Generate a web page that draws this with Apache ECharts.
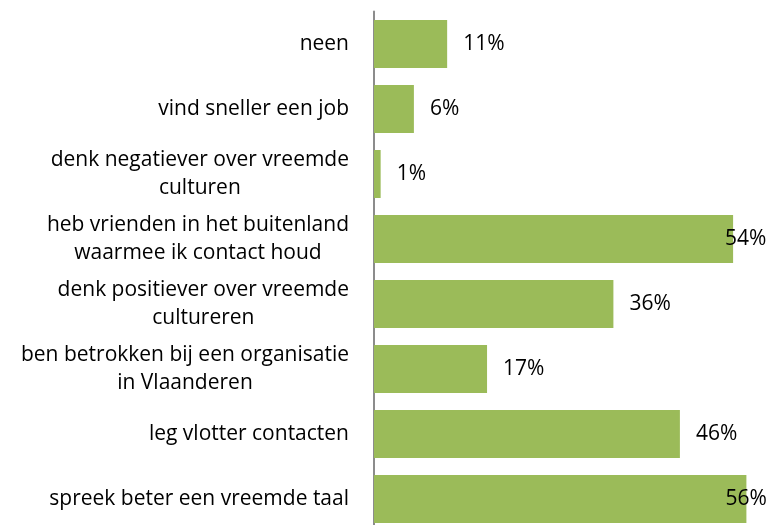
<!DOCTYPE html>
<html><head><meta charset="utf-8">
<script src="https://cdn.jsdelivr.net/npm/echarts@6/dist/echarts.min.js"></script>
<style>html,body{margin:0;padding:0;background:#fff}#c{width:771px;height:525px}</style>
</head><body><div id="c"></div>
<script>
const categories = [
  'neen',
  'vind sneller een job',
  'denk negatiever over vreemde\nculturen',
  'heb vrienden in het buitenland\nwaarmee ik contact houd',
  'denk positiever over vreemde\ncultureren',
  'ben betrokken bij een organisatie\nin Vlaanderen',
  'leg vlotter contacten',
  'spreek beter een vreemde taal'
];
const values = [11, 6, 1, 54, 36, 17, 46, 56];
const labelShift = [0, 0, 0, -24, 0, 0, 0, -37];

const FONT = '"Open Sans", sans-serif';
const FS = 21;
const chart = echarts.init(document.getElementById('c'));
chart.setOption({
  animation: false,
  grid: { left: 374, top: 11.5, width: 399, height: 520, containLabel: false, outerBoundsMode: 'none' },
  xAxis: { type: 'value', min: 0, max: 60, show: false },
  yAxis: {
    type: 'category', inverse: true, data: categories,
    axisLine: { show: true, lineStyle: { color: '#8c8c8c', width: 2 } },
    axisTick: { show: false },
    axisLabel: {
      margin: 25, color: '#000', fontFamily: FONT, fontSize: FS,
      formatter: v => v.split('\n').map(l => '{c|' + l + '}').join('\n'),
      rich: { c: { align: 'center', fontFamily: FONT, fontSize: FS, lineHeight: 28, color: '#000' } }
    }
  },
  series: [{
    type: 'bar',
    barWidth: 48,
    itemStyle: { color: '#9bbb59' },
    data: values.map((v, i) => ({
      value: v,
      label: { offset: [labelShift[i], 0] }
    })),
    label: {
      show: true, position: 'right', distance: 16,
      formatter: p => p.value + '%',
      fontFamily: FONT, fontSize: FS, color: '#000'
    }
  }]
});
</script></body></html>
